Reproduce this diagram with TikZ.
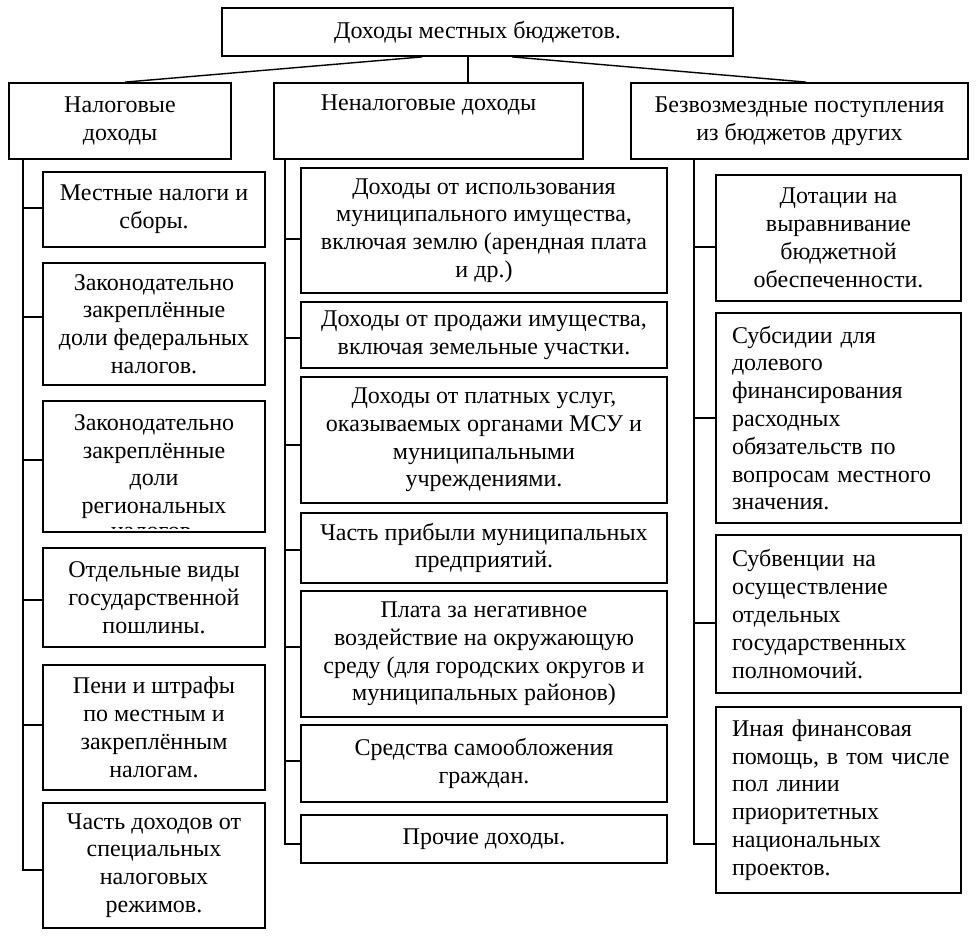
\documentclass[tikz,border=0pt]{standalone}
\usepackage{fontspec}
\setmainfont{Liberation Serif}
\usetikzlibrary{calc}
\begin{document}
\begin{tikzpicture}[x=1pt,y=-1pt,
  box/.style={draw, line width=1.8pt, rectangle, inner sep=0pt, align=center},
  txt/.style={font=\fontsize{24}{27.8}\selectfont, inner sep=0pt},
  conn/.style={line width=1.4pt}]
\useasboundingbox (0,0) rectangle (978,948);
% top level
\node[box, minimum width=511pt, minimum height=48pt, txt] (T) at (477.5,32) {Доходы местных бюджетов.};
\node[box, minimum width=222pt, minimum height=76pt, txt] (L) at (120,121) {Налоговые\\доходы};
\node[box, minimum width=309pt, minimum height=76pt, txt] (M) at (428.5,121) {Неналоговые доходы\\\strut};
\node[box, minimum width=337pt, minimum height=76pt, txt] (R) at (799.5,121) {Безвозмездные поступления\\из бюджетов других};
\draw[conn] ($(T.south west)+(201,0)$) -- ($(L.north west)+(117,0)$);
\draw[conn] ($(T.south west)+(247,0)$) -- ($(T.south west)+(247,27)$) coordinate (mtop);
\draw[conn] ($(T.south west)+(291,0)$) -- ($(R.north west)+(176,0)$);
% left column
\coordinate (tL) at (23,159);
\node[box, txt, minimum width=222pt, minimum height=75pt] (l1) at (154,209.5) {Местные налоги и\\сборы.};
\node[box, txt, minimum width=222pt, minimum height=122pt] (l2) at (154,324) {Законодательно\\закреплённые\\доли федеральных\\налогов.};
\node[box, txt, minimum width=222pt, minimum height=131pt] (l3) at (154,466.5) {Законодательно\\закреплённые\\доли\\региональных};
\begin{scope}
\clip ($(l3.south west)+(2,-4)$) rectangle ($(l3.north east)+(-2,0)$);
\node[txt, anchor=base] (l3t) at ($(l3.south)+(0,6)$) {налогов.};
\end{scope}
\node[box, txt, minimum width=222pt, minimum height=99pt] (l4) at (154,597.5) {Отдельные виды\\государственной\\пошлины.};
\node[box, txt, minimum width=222pt, minimum height=125pt] (l5) at (154,727.5) {Пени и штрафы\\по местным и\\закреплённым\\налогам.};
\node[box, txt, minimum width=222pt, minimum height=125pt] (l6) at (154,865.5) {Часть доходов от\\специальных\\налоговых\\режимов.};
\draw[conn] (L.south -| tL) |- ($(l1.west)+(0,-1.5)$);
\draw[conn] (L.south -| tL) |- ($(l2.west)+(0,-7)$);
\draw[conn] (L.south -| tL) |- ($(l3.west)+(0,-6.5)$);
\draw[conn] (L.south -| tL) |- ($(l4.west)+(0,2.5)$);
\draw[conn] (L.south -| tL) |- ($(l5.west)+(0,-2.5)$);
\draw[conn] (L.south -| tL) |- ($(l6.west)+(0,4.5)$);
% middle column
\coordinate (tM) at (285,159);
\node[box, txt, minimum width=366pt, minimum height=125pt] (m1) at (484,230.5) {Доходы от использования\\муниципального имущества,\\включая землю (арендная плата\\и др.)};
\node[box, txt, minimum width=366pt, minimum height=66pt] (m2) at (484,335) {Доходы от продажи имущества,\\включая земельные участки.};
\node[box, txt, minimum width=366pt, minimum height=126pt] (m3) at (484,440) {Доходы от платных услуг,\\оказываемых органами МСУ и\\муниципальными\\учреждениями.};
\node[box, txt, minimum width=366pt, minimum height=70pt] (m4) at (484,548) {Часть прибыли муниципальных\\предприятий.};
\node[box, txt, minimum width=366pt, minimum height=126pt] (m5) at (484,654) {Плата за негативное\\воздействие на окружающую\\среду (для городских округов и\\муниципальных районов)};
\node[box, txt, minimum width=366pt, minimum height=77pt] (m6) at (484,763.5) {Средства самообложения\\граждан.};
\node[box, txt, minimum width=366pt, minimum height=48pt] (m7) at (484,839) {Прочие доходы.};
\draw[conn] (M.south -| tM) |- ($(m1.west)+(0,8.5)$);
\draw[conn] (M.south -| tM) |- ($(m2.west)+(0,3)$);
\draw[conn] (M.south -| tM) |- ($(m3.west)+(0,5)$);
\draw[conn] (M.south -| tM) |- ($(m4.west)+(0,2)$);
\draw[conn] (M.south -| tM) |- ($(m5.west)+(0,-7)$);
\draw[conn] (M.south -| tM) |- ($(m6.west)+(0,-2.5)$);
\draw[conn] (M.south -| tM) |- ($(m7.west)+(0,5)$);
% right column
\coordinate (tR) at (694,159);
\node[box, txt, minimum width=245pt, minimum height=126pt] (r1) at (838.5,238) {Дотации на\\выравнивание\\бюджетной\\обеспеченности.};
\node[box, txt, align=left, text width=213pt, minimum width=245pt, minimum height=210pt] (r2) at (838.5,418) {Субсидии для\\долевого\\финансирования\\расходных\\обязательств по\\вопросам местного\\значения.};
\node[box, txt, align=left, text width=213pt, minimum width=245pt, minimum height=158pt] (r3) at (838.5,614) {Субвенции на\\осуществление\\отдельных\\государственных\\полномочий.};
\node[box, txt, align=left, text width=213pt, minimum width=245pt, minimum height=186pt] (r4) at (838.5,800) {Иная финансовая\\\mbox{помощь, в том числе}\\пол линии\\приоритетных\\национальных\\проектов.};
\draw[conn] (R.south -| tR) |- ($(r1.west)+(0,9)$);
\draw[conn] (R.south -| tR) |- ($(r2.west)+(0,0)$);
\draw[conn] (R.south -| tR) |- ($(r3.west)+(0,9)$);
\draw[conn] (R.south -| tR) |- ($(r4.west)+(0,44)$);
\end{tikzpicture}
\end{document}
